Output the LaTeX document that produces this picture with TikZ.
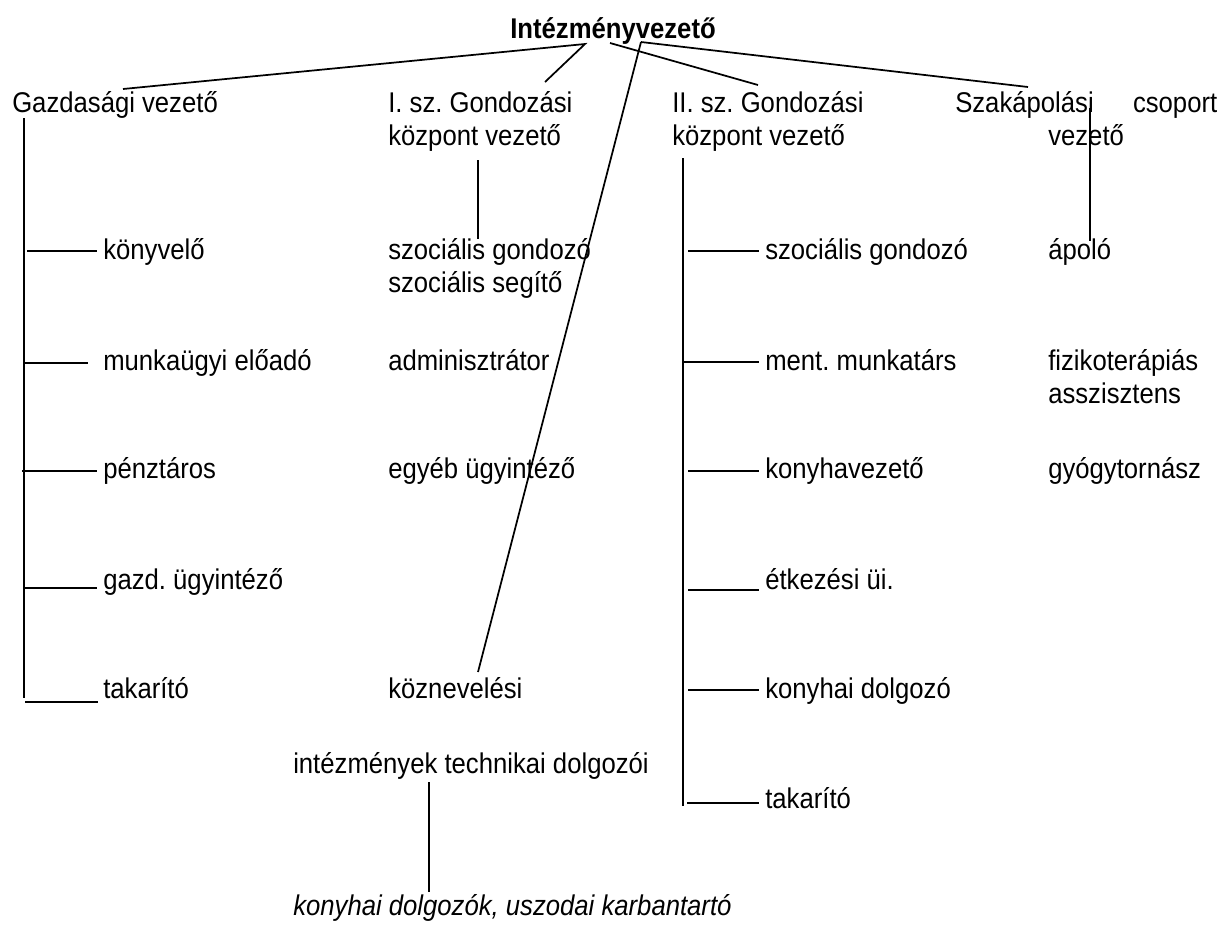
\documentclass[tikz,border=0pt]{standalone}
\usepackage{fontspec}
\setmainfont{Liberation Sans}[FakeStretch=0.9]
\usetikzlibrary{positioning}
\frenchspacing
\tikzset{
  lbl/.style={anchor=base west,inner sep=0pt,font=\fontsize{21.4}{25}\selectfont},
  conn/.style={line width=1.3pt}
}

\begin{document}
\begin{tikzpicture}[x=0.75pt,y=-0.75pt]
\useasboundingbox (0,0) rectangle (1224,926);
% vezetok
\node[lbl,font=\fontsize{21.4}{25}\selectfont\bfseries] (head) at (510,38) {Intézményvezető};
\node[lbl] (gazd) at (12,112) {Gazdasági vezető};
\node[lbl] (gk1) at (388,112) {I. sz. Gondozási};
\node[lbl] (gk1b) at (388,145) {központ vezető};
\node[lbl] (gk2) at (672,112) {II. sz. Gondozási};
\node[lbl] (gk2b) at (672,145) {központ vezető};
\node[lbl] (szak) at (955,112) {\makebox[196.5pt][s]{Szakápolási\hfill csoport}};
\node[lbl] (szakb) at (1048,145) {vezető};
% beosztottak
\foreach \n/\y/\t in {1/259/könyvelő,2/370/munkaügyi előadó,3/478/pénztáros,4/589/gazd. ügyintéző,5/698/takarító}
  \node[lbl] (ga\n) at (103,\y) {\t};
\node[lbl] (ka1) at (388,259) {szociális gondozó};
\node[lbl] (ka1b) at (388,292) {szociális segítő};
\node[lbl] (ka2) at (388,370) {adminisztrátor};
\node[lbl] (ka3) at (388,478) {egyéb ügyintéző};
\node[lbl] (ka4) at (388,698) {köznevelési};
\node[lbl] (tech) at (293,773) {intézmények technikai dolgozói};
\node[lbl,font=\fontsize{21.4}{25}\selectfont\itshape] (uszoda) at (293,915) {konyhai dolgozók, uszodai karbantartó};
\foreach \n/\y/\t in {1/259/szociális gondozó,2/370/ment. munkatárs,3/478/konyhavezető,4/589/étkezési üi.,5/698/konyhai dolgozó,6/808/takarító}
  \node[lbl] (kb\n) at (765,\y) {\t};
\node[lbl] (sz1) at (1048,259) {ápoló};
\node[lbl] (sz2) at (1048,370) {fizikoterápiás};
\node[lbl] (sz2b) at (1048,403) {asszisztens};
\node[lbl] (sz3) at (1048,478) {gyógytornász};

% vonalak a vezetotol
\coordinate (hA) at (585,44);
\coordinate (hB) at (610,43);
\coordinate (hC) at (641,42);
\coordinate (gazd-t) at (123,89);
\coordinate (gk1-t) at (545,82);
\coordinate (gk2-t) at (758,85);
\coordinate (szak-t) at (1028,87);
\coordinate (tech-t) at (478,672);
\draw[conn] (gazd-t) -- (hA) -- (gk1-t);
\draw[conn] (hB) -- (gk2-t);
\draw[conn] (hC) -- (tech-t);
\draw[conn] (hC) -- (szak-t);

% fuggoleges vonalak
\foreach \n/\x/\ya/\yb in {1/24/118/698,2/478/160/239,3/683/158/806,4/1090/108/241,5/429/782/892}{
  \coordinate (v\n a) at (\x,\ya);
  \coordinate (v\n b) at (\x,\yb);
  \draw[conn] (v\n a) -- (v\n b);
}

% agak
\foreach \n/\y/\a/\b in {1/251/27/97,2/363/23/88,3/471/22/97,4/588/25/97,5/702/25/98}{
  \coordinate (ga\n l) at (\a,\y);
  \coordinate (ga\n r) at (\b,\y);
  \draw[conn] (ga\n l) -- (ga\n r);
}
\foreach \n/\y/\a in {1/251/688,2/362/683,3/471/688,4/590/688,5/690/688,6/803/687}{
  \coordinate (kb\n l) at (\a,\y);
  \coordinate (kb\n r) at (759,\y);
  \draw[conn] (kb\n l) -- (kb\n r);
}
\end{tikzpicture}
\end{document}
